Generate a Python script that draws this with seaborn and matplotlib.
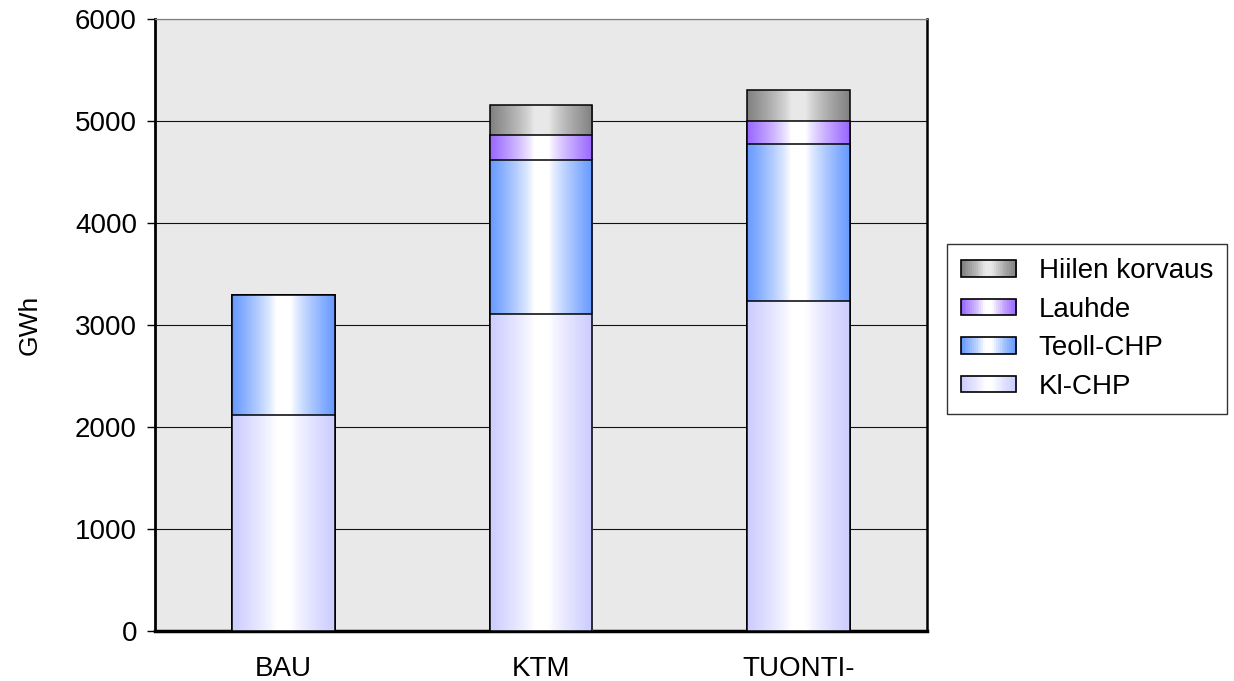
import numpy as np
import pandas as pd
import seaborn as sns
import matplotlib.pyplot as plt
from matplotlib.patches import Rectangle
from matplotlib.legend_handler import HandlerBase
from matplotlib.ticker import FixedLocator

sns.set_style("white")
plt.rcParams['font.family'] = ['Liberation Sans', 'DejaVu Sans']
plt.rcParams['text.color'] = 'black'
plt.rcParams['axes.labelcolor'] = 'black'
plt.rcParams['xtick.color'] = 'black'
plt.rcParams['ytick.color'] = 'black'

categories = ["BAU", "KTM", "TUONTI-"]
kl_chp = [2120, 3110, 3240]
teoll_chp = [1170, 1510, 1530]
lauhde = [0, 240, 230]
hiilen_korvaus = [0, 300, 300]

series_names = ["Kl-CHP", "Teoll-CHP", "Lauhde", "Hiilen korvaus"]
series_vals = [kl_chp, teoll_chp, lauhde, hiilen_korvaus]
# edge colour, centre colour of the horizontal gradient
grads = {
    "Kl-CHP": ((204, 204, 255), (255, 255, 255)),
    "Teoll-CHP": ((102, 153, 255), (255, 255, 255)),
    "Lauhde": ((153, 102, 255), (255, 255, 255)),
    "Hiilen korvaus": ((128, 128, 128), (232, 232, 232)),
}


def gradient_row(name, n=200):
    edge, centre = grads[name]
    u = np.linspace(0, 1, n)
    t = np.abs(2 * u - 1)
    w = np.clip((t - 0.15) / 0.85, 0, 1) ** 0.8
    edge = np.array(edge) / 255.0
    centre = np.array(centre) / 255.0
    return centre[None, :] + (edge - centre)[None, :] * w[:, None]


class GradientHandler(HandlerBase):
    def create_artists(self, legend, orig_handle, xdescent, ydescent,
                       width, height, fontsize, trans):
        cols = gradient_row(orig_handle.get_label(), 30)
        n = len(cols)
        arts = []
        for i, c in enumerate(cols):
            r = Rectangle((-xdescent + i * width / n, -ydescent), width / n + 0.3, height,
                          facecolor=c, edgecolor='none', transform=trans)
            arts.append(r)
        arts.append(Rectangle((-xdescent, -ydescent), width, height, facecolor='none',
                              edgecolor='black', lw=1.2, transform=trans))
        return arts


df = pd.DataFrame(dict(zip(series_names, series_vals)), index=categories)
cum = df.cumsum(axis=1)

fig = plt.figure(figsize=(12.34, 6.81), dpi=100)
ax = fig.add_axes([155 / 1234, 1 - 631 / 681, (927 - 155) / 1234, (631 - 19) / 681])
ax.set_facecolor('#e9e9e9')

z = 2.0
for name in reversed(series_names):
    n_before = len(ax.patches)
    sns.barplot(x=categories, y=cum[name].values, color='white', width=0.4,
                saturation=1, edgecolor='black', linewidth=1.1, ax=ax, zorder=z + 0.1)
    row = gradient_row(name)[None, :, :]
    for p in ax.patches[n_before:]:
        p.set_facecolor('none')
        x0, y0 = p.get_x(), p.get_y()
        im = ax.imshow(row, extent=(x0, x0 + p.get_width(), y0, y0 + p.get_height()),
                       aspect='auto', interpolation='bilinear', zorder=z, origin='lower')
        im.set_clip_path(p)
    z += 0.2

ax.set_xlim(-0.5, 2.5)
ax.set_ylim(0, 6000)
ax.set_yticks(range(0, 6001, 1000))
ax.yaxis.grid(True, color='#111111', lw=0.8)
ax.set_axisbelow(True)

ax.set_xticks(range(len(categories)))
ax.set_xticklabels(categories)
ax.xaxis.set_minor_locator(FixedLocator([-0.5, 0.5, 1.5, 2.5]))
ax.tick_params(axis='x', which='major', length=0, pad=18, labelsize=20)
ax.tick_params(axis='x', which='minor', length=6, width=1, color='black', direction='out')
ax.tick_params(axis='y', length=6, width=1, color='black', direction='out', pad=7,
               labelsize=20, left=True)

ax.set_ylabel("GWh", fontsize=19, labelpad=24)
ax.set_xlabel("")

for s in ['left', 'bottom']:
    ax.spines[s].set_color('black')
ax.spines['left'].set_linewidth(2)
ax.spines['bottom'].set_linewidth(2.5)
ax.spines['right'].set_color('black')
ax.spines['right'].set_linewidth(1.8)
ax.spines['top'].set_color('#808080')
ax.spines['top'].set_linewidth(0.9)

handles = [Rectangle((0, 0), 1, 1, label=n) for n in reversed(series_names)]
leg = fig.legend(handles=handles, labels=[h.get_label() for h in handles],
                 handler_map={Rectangle: GradientHandler()},
                 loc='center left', bbox_to_anchor=(947 / 1234, 1 - 329 / 681),
                 fontsize=20, frameon=True, fancybox=False, edgecolor='black',
                 handlelength=2.0, handleheight=0.55, handletextpad=0.8,
                 labelspacing=0.45, borderpad=0.5, borderaxespad=0)
leg.get_frame().set_linewidth(1.0)

fig.savefig('out.png', dpi=100)
